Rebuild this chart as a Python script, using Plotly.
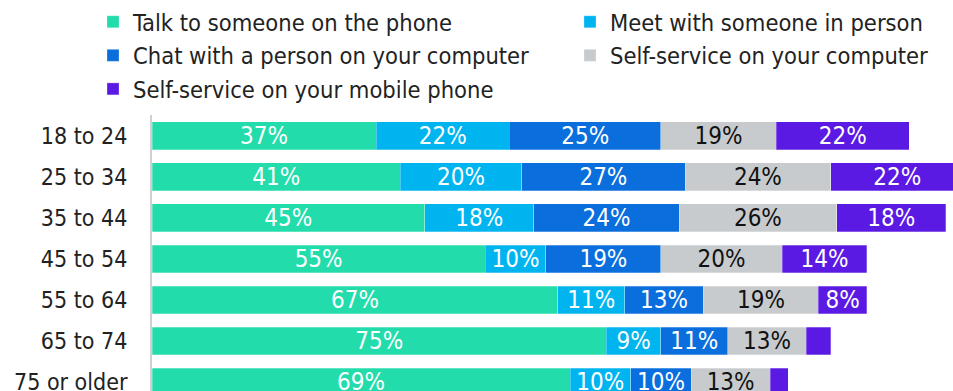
import plotly.graph_objects as go

# Age groups and share of respondents preferring each service channel (%)
age_groups = ["18 to 24", "25 to 34", "35 to 44", "45 to 54", "55 to 64", "65 to 74", "75 or older"]

talk_phone = [37, 41, 45, 55, 67, 75, 69]
meet_person = [22, 20, 18, 10, 11, 9, 10]
chat_computer = [25, 27, 24, 19, 13, 11, 10]
self_computer = [19, 24, 26, 20, 19, 13, 13]
self_mobile = [22, 22, 18, 14, 8, 4, 3]

series_names = [
    "Talk to someone on the phone",
    "Meet with someone in person",
    "Chat with a person on your computer",
    "Self-service on your computer",
    "Self-service on your mobile phone",
]
series_values = [talk_phone, meet_person, chat_computer, self_computer, self_mobile]
colors = ["#23DCAB", "#00B5EF", "#0A6EDD", "#C8CBCE", "#5B1AE3"]
label_colors = ["#FFFFFF", "#FFFFFF", "#FFFFFF", "#111111", "#FFFFFF"]
# two legend columns: left column holds 1st, 3rd, 5th series
legend_ids = ["legend", "legend2", "legend", "legend2", "legend"]

FONT = "DejaVu Sans Condensed, DejaVu Sans"

fig = go.Figure()
for name, vals, col, lcol, lg in zip(series_names, series_values, colors, label_colors, legend_ids):
    # small segments stay unlabeled
    texts = [f"{v}%" if v >= 6 else "" for v in vals]
    fig.add_trace(go.Bar(
        name=name,
        y=age_groups,
        x=vals,
        orientation="h",
        legend=lg,
        marker=dict(color=col, line=dict(color="rgba(255,255,255,0.45)", width=0.6)),
        text=texts,
        textposition="inside",
        insidetextanchor="middle",
        constraintext="none",
        textangle=0,
        textfont=dict(family=FONT, size=24, color=lcol),
        cliponaxis=True,
        hoverinfo="skip",
    ))

legend_style = dict(
    orientation="v",
    yref="container", yanchor="top",
    xref="container", xanchor="left",
    font=dict(family=FONT, size=23.5, color="#222222"),
    traceorder="normal",
    itemwidth=30,
    tracegroupgap=0,
    bgcolor="rgba(0,0,0,0)",
)

fig.update_layout(
    barmode="stack",
    bargap=0.32,
    width=953,
    height=391,
    margin=dict(l=152, r=0, t=115, b=0, autoexpand=False),
    paper_bgcolor="white",
    plot_bgcolor="white",
    legend=dict(x=93 / 953, y=1.0 + 3 / 391, **legend_style),
    legend2=dict(x=570 / 953, y=1.0 + 3 / 391, **legend_style),
    xaxis=dict(
        range=[0, 132.2],
        visible=False,
        fixedrange=True,
    ),
    yaxis=dict(
        range=[6.22, -0.51],
        showline=True,
        linecolor="#D0D0D0",
        linewidth=2,
        showgrid=False,
        ticks="",
        ticklabelstandoff=18,
        tickfont=dict(family=FONT, size=23, color="#222222"),
        fixedrange=True,
    ),
    showlegend=True,
)

fig.write_html("out.html")
